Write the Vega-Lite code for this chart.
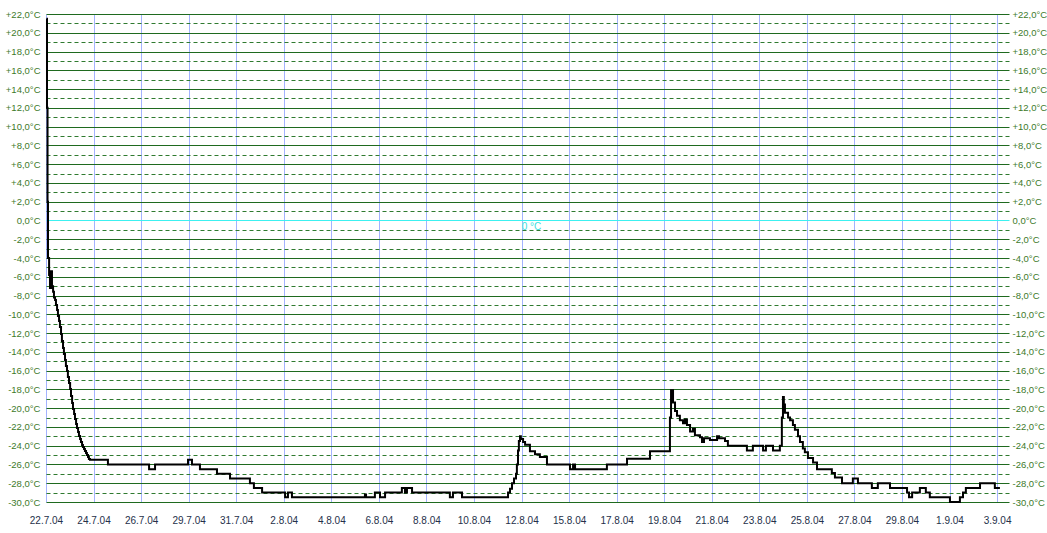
{
  "$schema": "https://vega.github.io/schema/vega-lite/v6.json",
  "width": 963,
  "height": 488,
  "autosize": "none",
  "padding": {"left": 46, "top": 14, "right": 38, "bottom": 31},
  "background": "white",
  "config": {"view": {"stroke": null}, "font": "Liberation Sans"},
  "datasets": {
    "temps": [
      {"day": 0.02, "temp": 21.5}, {"day": 0.045, "temp": 12}, {"day": 0.07, "temp": 2}, {"day": 0.09, "temp": -4},
      {"day": 0.14, "temp": -5.8}, {"day": 0.18, "temp": -7.2}, {"day": 0.23, "temp": -5.4}, {"day": 0.27, "temp": -7.0},
      {"day": 0.32, "temp": -7.6}, {"day": 0.36, "temp": -8.2},
      {"day": 0.41, "temp": -8.47}, {"day": 0.45, "temp": -9.01}, {"day": 0.5, "temp": -9.54}, {"day": 0.54, "temp": -10.18},
      {"day": 0.59, "temp": -10.72}, {"day": 0.63, "temp": -11.35}, {"day": 0.68, "temp": -12.1}, {"day": 0.72, "temp": -12.85},
      {"day": 0.77, "temp": -13.59}, {"day": 0.81, "temp": -14.23}, {"day": 0.86, "temp": -14.87}, {"day": 0.9, "temp": -15.51},
      {"day": 0.95, "temp": -16.04}, {"day": 0.99, "temp": -16.68}, {"day": 1.04, "temp": -17.32}, {"day": 1.09, "temp": -17.96},
      {"day": 1.13, "temp": -18.71}, {"day": 1.18, "temp": -19.45}, {"day": 1.22, "temp": -20.09}, {"day": 1.27, "temp": -20.62},
      {"day": 1.31, "temp": -21.16}, {"day": 1.36, "temp": -21.69}, {"day": 1.4, "temp": -22.12}, {"day": 1.45, "temp": -22.55},
      {"day": 1.49, "temp": -22.97}, {"day": 1.54, "temp": -23.29}, {"day": 1.58, "temp": -23.61}, {"day": 1.63, "temp": -23.93},
      {"day": 1.67, "temp": -24.15}, {"day": 1.72, "temp": -24.36}, {"day": 1.76, "temp": -24.57}, {"day": 1.81, "temp": -24.79},
      {"day": 1.85, "temp": -25.0}, {"day": 1.9, "temp": -25.21}, {"day": 1.94, "temp": -25.43},
      {"day": 1.99, "temp": -25.5}, {"day": 2.8, "temp": -26.0}, {"day": 4.66, "temp": -26.5}, {"day": 4.93, "temp": -26.0},
      {"day": 6.42, "temp": -25.5}, {"day": 6.6, "temp": -26.0}, {"day": 6.96, "temp": -26.5}, {"day": 7.73, "temp": -27.0},
      {"day": 8.32, "temp": -27.5}, {"day": 9.22, "temp": -28.0}, {"day": 9.4, "temp": -28.5}, {"day": 9.77, "temp": -29.0},
      {"day": 10.81, "temp": -29.5}, {"day": 10.94, "temp": -29.0}, {"day": 11.12, "temp": -29.5}, {"day": 14.42, "temp": -29.2},
      {"day": 14.47, "temp": -29.5}, {"day": 14.87, "temp": -29.0}, {"day": 15.1, "temp": -29.5}, {"day": 15.33, "temp": -29.0},
      {"day": 16.09, "temp": -28.5}, {"day": 16.23, "temp": -29.0}, {"day": 16.32, "temp": -28.5}, {"day": 16.55, "temp": -29.0},
      {"day": 18.26, "temp": -29.5}, {"day": 18.4, "temp": -29.0}, {"day": 18.81, "temp": -29.5}, {"day": 20.89, "temp": -29.0},
      {"day": 20.98, "temp": -28.6}, {"day": 21.07, "temp": -28.0}, {"day": 21.16, "temp": -27.5}, {"day": 21.25, "temp": -27.0},
      {"day": 21.29, "temp": -26.0}, {"day": 21.34, "temp": -24.5}, {"day": 21.38, "temp": -23.5}, {"day": 21.43, "temp": -23.0},
      {"day": 21.47, "temp": -23.3}, {"day": 21.57, "temp": -23.6}, {"day": 21.66, "temp": -23.9}, {"day": 21.88, "temp": -24.6},
      {"day": 22.11, "temp": -24.9}, {"day": 22.33, "temp": -25.2}, {"day": 22.65, "temp": -26.0}, {"day": 23.69, "temp": -26.5},
      {"day": 23.83, "temp": -26.0}, {"day": 23.92, "temp": -26.5}, {"day": 25.36, "temp": -26.0}, {"day": 26.27, "temp": -25.4},
      {"day": 27.31, "temp": -24.6}, {"day": 28.21, "temp": -21.0}, {"day": 28.26, "temp": -18.1}, {"day": 28.35, "temp": -19.4},
      {"day": 28.44, "temp": -20.3}, {"day": 28.53, "temp": -20.8}, {"day": 28.66, "temp": -21.3}, {"day": 28.8, "temp": -21.6},
      {"day": 28.89, "temp": -21.2}, {"day": 28.98, "temp": -21.8}, {"day": 29.12, "temp": -22.5}, {"day": 29.25, "temp": -22.2},
      {"day": 29.34, "temp": -22.9}, {"day": 29.57, "temp": -23.1}, {"day": 29.66, "temp": -23.6}, {"day": 29.75, "temp": -23.2},
      {"day": 30.02, "temp": -23.4}, {"day": 30.34, "temp": -23.0}, {"day": 30.43, "temp": -23.2}, {"day": 30.7, "temp": -23.5},
      {"day": 30.83, "temp": -24.0}, {"day": 31.69, "temp": -24.5}, {"day": 31.96, "temp": -24.0}, {"day": 32.42, "temp": -24.5},
      {"day": 32.55, "temp": -24.0}, {"day": 32.87, "temp": -24.5}, {"day": 33.18, "temp": -24.0}, {"day": 33.27, "temp": -21.0},
      {"day": 33.32, "temp": -18.8}, {"day": 33.36, "temp": -19.6}, {"day": 33.41, "temp": -20.5}, {"day": 33.55, "temp": -21.0},
      {"day": 33.64, "temp": -21.3}, {"day": 33.77, "temp": -21.8}, {"day": 33.86, "temp": -22.3}, {"day": 34.0, "temp": -23.0},
      {"day": 34.09, "temp": -23.6}, {"day": 34.22, "temp": -24.3}, {"day": 34.31, "temp": -24.7}, {"day": 34.45, "temp": -25.3},
      {"day": 34.68, "temp": -25.8}, {"day": 34.86, "temp": -26.5}, {"day": 35.53, "temp": -26.9}, {"day": 35.67, "temp": -27.4},
      {"day": 35.99, "temp": -28.0}, {"day": 36.48, "temp": -27.5}, {"day": 36.71, "temp": -28.0}, {"day": 37.34, "temp": -28.5},
      {"day": 37.61, "temp": -28.0}, {"day": 38.16, "temp": -28.5}, {"day": 38.93, "temp": -29.0}, {"day": 39.02, "temp": -29.5},
      {"day": 39.16, "temp": -29.0}, {"day": 39.51, "temp": -28.5}, {"day": 39.78, "temp": -29.0}, {"day": 39.96, "temp": -29.5},
      {"day": 40.87, "temp": -30.0}, {"day": 41.32, "temp": -29.5}, {"day": 41.46, "temp": -29.0}, {"day": 41.59, "temp": -28.5},
      {"day": 42.23, "temp": -28.0}, {"day": 42.9, "temp": -28.5}, {"day": 43.13, "temp": -28.5}
    ],
    "marker": [{"day": 21.95, "temp": 0, "label": "0 °C"}]
  },
  "layer": [
    {
      "data": {"name": "temps"},
      "mark": {"type": "line", "interpolate": "step-after", "color": "black", "strokeWidth": 2},
      "encoding": {
        "x": {
          "field": "day", "type": "quantitative",
          "scale": {"domain": [0, 43.54], "nice": false, "zero": false},
          "axis": {
            "title": null, "domain": false, "ticks": false, "tickSize": 0,
            "values": [0, 1.075, 2.15, 3.225, 4.3, 5.375, 6.45, 7.525, 8.6, 9.675, 10.75, 11.825, 12.9, 13.975, 15.05, 16.125, 17.2, 18.275, 19.35, 20.425, 21.5, 22.575, 23.65, 24.725, 25.8, 26.875, 27.95, 29.025, 30.1, 31.175, 32.25, 33.325, 34.4, 35.475, 36.55, 37.625, 38.7, 39.775, 40.85, 41.925, 43.0],
            "labelExpr": "round(datum.value/1.075)%2==0 ? ['22.7.04','24.7.04','26.7.04','29.7.04','31.7.04','2.8.04','4.8.04','6.8.04','8.8.04','10.8.04','12.8.04','15.8.04','17.8.04','19.8.04','21.8.04','23.8.04','25.8.04','27.8.04','29.8.04','1.9.04','3.9.04'][round(datum.value/2.15)] : ''",
            "labelOverlap": false, "labelFlush": false, "labelBound": false,
            "labelColor": "#25304a", "labelFontSize": 10, "labelPadding": 13,
            "grid": true,
            "gridColor": {"condition": {"test": "round(datum.value/1.075)%2==1", "value": "#6676f2"}, "value": "#a3b3ff"},
            "gridDash": {"condition": {"test": "round(datum.value/1.075)%2==1", "value": [3, 3]}, "value": []},
            "gridWidth": 1, "gridOpacity": 1
          }
        },
        "y": {
          "field": "temp", "type": "quantitative",
          "scale": {"domain": [-30, 22], "nice": false, "zero": false},
          "axis": {
            "title": null, "orient": "left", "domain": false, "ticks": false, "tickSize": 0,
            "values": [-30, -29, -28, -27, -26, -25, -24, -23, -22, -21, -20, -19, -18, -17, -16, -15, -14, -13, -12, -11, -10, -9, -8, -7, -6, -5, -4, -3, -2, -1, 0, 1, 2, 3, 4, 5, 6, 7, 8, 9, 10, 11, 12, 13, 14, 15, 16, 17, 18, 19, 20, 21, 22],
            "labelExpr": "datum.value % 2 != 0 ? '' : (datum.value > 0 ? '+' : (datum.value < 0 ? '-' : '')) + replace(format(abs(datum.value), '.1f'), '.', ',') + '°C'",
            "labelOverlap": false, "labelBound": false, "labelFlush": false,
            "labelColor": "#3d7a2a", "labelFontSize": 9.5, "labelPadding": 6,
            "grid": true,
            "gridColor": {"condition": [{"test": "datum.value == 0", "value": "#3cf0f0"}, {"test": "datum.value % 2 != 0", "value": "#2f7a2f"}], "value": "#1f6a1f"},
            "gridDash": {"condition": {"test": "datum.value % 2 != 0", "value": [4, 3]}, "value": []},
            "gridWidth": 1, "gridOpacity": 1
          }
        }
      }
    },
    {
      "data": {"name": "marker"},
      "mark": {"type": "text", "color": "#3cdede", "fontSize": 10, "baseline": "top", "align": "center", "dy": 2},
      "encoding": {
        "x": {"field": "day", "type": "quantitative"},
        "y": {
          "field": "temp", "type": "quantitative",
          "scale": {"domain": [-30, 22], "nice": false, "zero": false},
          "axis": {
            "title": null, "orient": "right", "domain": false, "ticks": false, "tickSize": 0, "grid": false,
            "values": [-30, -28, -26, -24, -22, -20, -18, -16, -14, -12, -10, -8, -6, -4, -2, 0, 2, 4, 6, 8, 10, 12, 14, 16, 18, 20, 22],
            "labelExpr": "(datum.value > 0 ? '+' : (datum.value < 0 ? '-' : '')) + replace(format(abs(datum.value), '.1f'), '.', ',') + '°C'",
            "labelOverlap": false, "labelBound": false, "labelFlush": false,
            "labelColor": "#3d7a2a", "labelFontSize": 9.5, "labelPadding": 3
          }
        },
        "text": {"field": "label"}
      }
    }
  ],
  "resolve": {"scale": {"y": "independent"}}
}
